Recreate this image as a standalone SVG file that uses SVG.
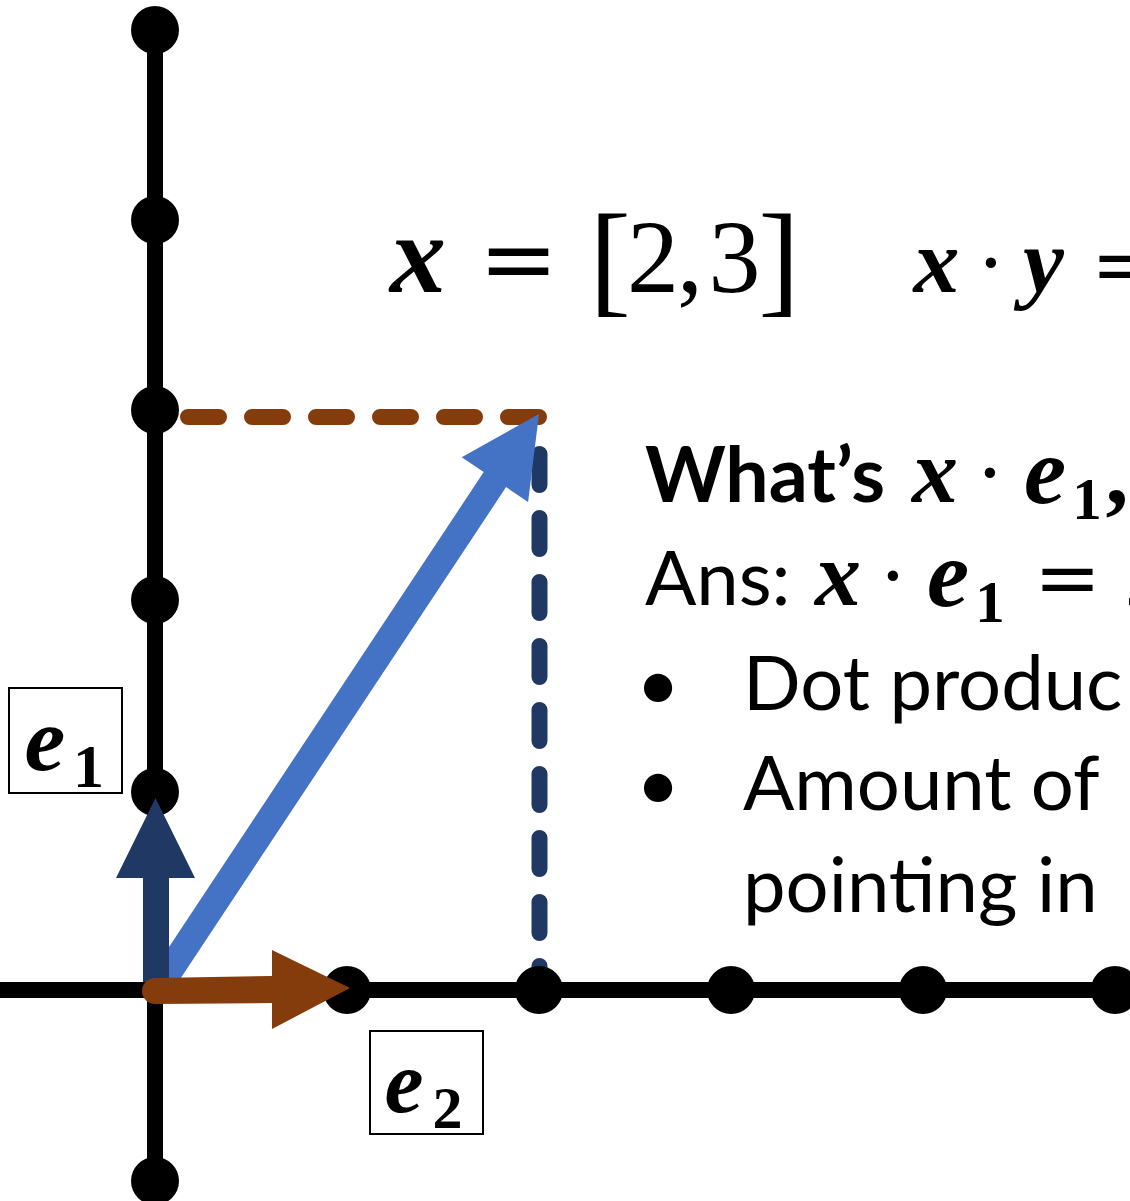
<svg xmlns="http://www.w3.org/2000/svg" width="1130" height="1201" viewBox="0 0 1130 1201">
<defs>
<style>
.axis{stroke:#000;stroke-width:16;fill:none}
.dot{fill:#000}
.dash{fill:none;stroke-width:16;stroke-linecap:round;stroke-dasharray:31 33}
.mi{font-family:"Liberation Serif","Times New Roman",serif;font-style:italic;font-weight:bold;fill:#000}
.mr{font-family:"Liberation Serif","Times New Roman",serif;fill:#000}
.mb{font-family:"Liberation Serif","Times New Roman",serif;font-weight:bold;fill:#000}
.op{font-family:"DejaVu Serif",serif;fill:#000}
.t{font-family:Lato,"Open Sans",sans-serif;fill:#000}
.box{fill:#fff;stroke:#000;stroke-width:2}
</style>
</defs>
<rect width="1130" height="1201" fill="#fff"/>
<g id="connectors">
<line class="axis" x1="155" y1="30" x2="155" y2="1201"/>
<line class="axis" x1="0" y1="990" x2="1130" y2="990"/>
<path class="dash" stroke="#843C0C" d="M188 417 H547"/>
<path class="dash" stroke="#203864" d="M539.5 454 V995"/>
<g id="ticks">
<circle class="dot" cx="155" cy="30" r="24"/>
<circle class="dot" cx="155" cy="220" r="24"/>
<circle class="dot" cx="155" cy="410" r="24"/>
<circle class="dot" cx="155" cy="600" r="24"/>
<circle class="dot" cx="155" cy="792" r="24"/>
<circle class="dot" cx="155" cy="1181" r="24"/>
<circle class="dot" cx="347" cy="990" r="24"/>
<circle class="dot" cx="539" cy="990" r="24"/>
<circle class="dot" cx="731" cy="990" r="24"/>
<circle class="dot" cx="923" cy="990" r="24"/>
<circle class="dot" cx="1115" cy="990" r="24"/>
</g>
<polygon id="vec-x" fill="#4472C4" points="171.2,992.5 506.1,487.1 528.1,501.9 539,414 461.7,457.3 483.7,472.1 148.8,977.5"/>
<polygon id="vec-e1" fill="#203864" points="143,982 143,878 116,878 155.5,798 195,878 169,878 169,982"/>
<path id="vec-e2" fill="#843C0C" d="M155 978 L272 976 L272 950 L350 988 L272 1029 L272 1003 L155 1004 A13 13 0 0 1 155 978 Z"/>
</g>
<g id="label-e1">
<rect class="box" x="9" y="688" width="113" height="105"/>
<text class="mi" font-size="92" x="45" y="770" text-anchor="middle">e</text>
<text class="mb" font-size="62" x="88.5" y="787" text-anchor="middle">1</text>
</g>
<g id="label-e2">
<rect class="box" x="370" y="1031" width="113" height="103"/>
<text class="mi" font-size="88" x="404" y="1112" text-anchor="middle">e</text>
<text class="mb" font-size="60" x="447.5" y="1128" text-anchor="middle">2</text>
</g>
<g id="eq-x">
<text class="mi" font-size="112" x="418" y="292" text-anchor="middle">x</text>
<text class="op" font-size="95" x="518.5" y="292" text-anchor="middle">=</text>
<text class="mr" font-size="125" x="610" y="300" text-anchor="middle">[</text>
<text class="mr" font-size="104" x="653" y="292" text-anchor="middle">2</text>
<text class="mr" font-size="104" x="690" y="292" text-anchor="middle">,</text>
<text class="mr" font-size="104" x="734.5" y="292" text-anchor="middle">3</text>
<text class="mr" font-size="125" x="779" y="300" text-anchor="middle">]</text>
</g>
<g id="eq-dot">
<text class="mi" font-size="92" x="936.5" y="292" text-anchor="middle">x</text>
<text class="mr" font-size="88" x="991" y="292" text-anchor="middle">·</text>
<text class="mi" font-size="92" x="1043.5" y="292" text-anchor="middle">y</text>
<text class="op" font-size="80" x="1091" y="292">=</text>
</g>
<g id="question">
<text class="t" font-weight="bold" font-size="77" x="645" y="502">What’s</text>
<text class="mi" font-size="92" x="935" y="502" text-anchor="middle">x</text>
<text class="mr" font-size="88" x="990" y="502" text-anchor="middle">·</text>
<text class="mi" font-size="95" x="1045" y="503" text-anchor="middle">e</text>
<text class="mb" font-size="59" x="1087" y="519" text-anchor="middle">1</text>
<text class="mb" font-size="92" x="1117" y="503" text-anchor="middle">,</text>
</g>
<g id="answer">
<text class="t" font-size="76" x="645" y="605">Ans:</text>
<text class="mi" font-size="92" x="838" y="605" text-anchor="middle">x</text>
<text class="mr" font-size="88" x="893" y="605" text-anchor="middle">·</text>
<text class="mi" font-size="95" x="948" y="606" text-anchor="middle">e</text>
<text class="mb" font-size="59" x="990" y="622" text-anchor="middle">1</text>
<text class="op" font-size="80" x="1067.5" y="605" text-anchor="middle">=</text>
<text class="mr" font-size="92" x="1125" y="605">2</text>
</g>
<g id="bullets">
<text class="t" font-size="76" x="658" y="710" text-anchor="middle">•</text>
<text class="t" font-size="76" x="743" y="710">Dot produc</text>
<text class="t" font-size="76" x="658" y="810" text-anchor="middle">•</text>
<text class="t" font-size="76" x="743" y="810">Amount of</text>
<text class="t" font-size="76" x="743" y="912">pointing in</text>
</g>
</svg>
